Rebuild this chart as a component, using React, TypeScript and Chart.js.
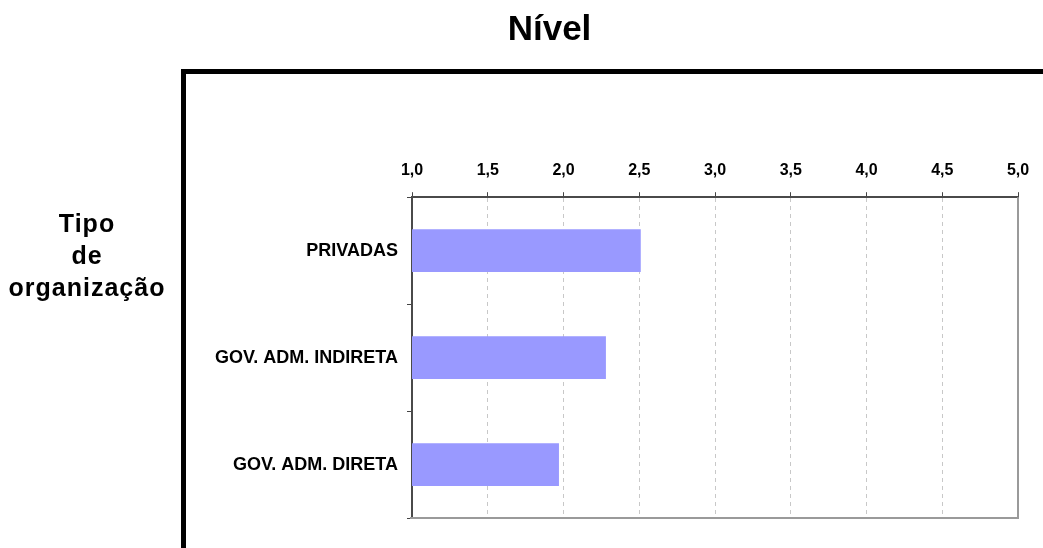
import React, { useEffect, useRef } from "react";
import { Chart, registerables } from "chart.js";

Chart.register(...registerables);

// Survey result: average level per organization type
const categories: string[] = ["PRIVADAS", "GOV. ADM. INDIRETA", "GOV. ADM. DIRETA"];
const levels: number[] = [2.51, 2.28, 1.97];

// Level scale
const scaleMin = 1;
const scaleMax = 5;
const scaleStep = 0.5;

const chartTitle = "Nível";
const axisTitleLines: string[] = ["Tipo", "de", "organização"];

const narrowFont = "'Liberation Sans Narrow', 'Liberation Sans', Arial, sans-serif";
const sansFont = "'Liberation Sans', Arial, sans-serif";

// Thick black frame along the top and left edges of the panel
const framePlugin = {
  id: "panelFrame",
  beforeDraw(chart: Chart) {
    const ctx = chart.ctx;
    ctx.save();
    ctx.fillStyle = "#000";
    ctx.fillRect(181, 69, chart.width - 181, 5);
    ctx.fillRect(181, 69, 5, chart.height - 69);
    ctx.restore();
  },
};

// Solid light-grey border on the right and bottom of the plot area
const plotBorderPlugin = {
  id: "plotBorder",
  afterDatasetsDraw(chart: Chart) {
    const { ctx, chartArea } = chart;
    ctx.save();
    ctx.strokeStyle = "#9a9a9a";
    ctx.lineWidth = 2;
    ctx.beginPath();
    ctx.moveTo(chartArea.right, chartArea.top);
    ctx.lineTo(chartArea.right, chartArea.bottom);
    ctx.lineTo(chartArea.left - 2, chartArea.bottom);
    ctx.stroke();
    ctx.restore();
  },
};

// Horizontal, stacked category-axis title at the left
const axisTitlePlugin = {
  id: "categoryAxisTitle",
  afterDraw(chart: Chart) {
    const ctx = chart.ctx;
    ctx.save();
    ctx.fillStyle = "#000";
    ctx.font = `bold 25px ${sansFont}`;
    ctx.textAlign = "center";
    ctx.textBaseline = "alphabetic";
    (ctx as any).letterSpacing = "1px";
    const baselines = [232, 264, 296];
    axisTitleLines.forEach((line, i) => {
      ctx.fillText(line, 87, baselines[i]);
    });
    ctx.restore();
  },
};

export default function App() {
  const canvasRef = useRef<HTMLCanvasElement | null>(null);

  useEffect(() => {
    document.body.style.margin = "0";
    const canvas = canvasRef.current;
    if (!canvas) return;

    const chart = new Chart(canvas, {
      type: "bar",
      data: {
        labels: categories,
        datasets: [
          {
            data: levels,
            backgroundColor: "#9999ff",
            borderWidth: 0,
            categoryPercentage: 1,
            barPercentage: 0.4,
          },
        ],
      },
      options: {
        indexAxis: "y",
        responsive: false,
        animation: false,
        layout: { padding: { top: 0, left: 81, right: 25, bottom: 30 } },
        plugins: {
          legend: { display: false },
          tooltip: { enabled: false },
          title: {
            display: true,
            text: chartTitle,
            color: "#000",
            font: { family: sansFont, size: 35, weight: "bold" },
            padding: { top: 9, bottom: 98 },
          },
        },
        scales: {
          x: {
            position: "top",
            min: scaleMin,
            max: scaleMax,
            ticks: {
              stepSize: scaleStep,
              color: "#000",
              padding: 12,
              font: { family: narrowFont, size: 16, weight: "bold" },
              callback: (v: any) => Number(v).toFixed(1).replace(".", ","),
            },
            grid: {
              color: "#c8c8c8",
              lineWidth: 1,
              tickColor: "#444",
              tickLength: 5,
              tickWidth: 1,
              tickBorderDash: [],
            } as any,
            border: { color: "#4a4a4a", width: 2, dash: [4, 4] },
          },
          y: {
            afterFit: (scale: any) => {
              scale.width = 331;
            },
            ticks: {
              color: "#000",
              padding: 9,
              font: { family: narrowFont, size: 18, weight: "bold" },
            },
            grid: {
              offset: true,
              drawOnChartArea: false,
              tickLength: 5,
              tickColor: "#444",
            },
            border: { color: "#4a4a4a", width: 2 },
          },
        },
      },
      plugins: [framePlugin, plotBorderPlugin, axisTitlePlugin],
    });

    return () => chart.destroy();
  }, []);

  return (
    <div style={{ width: 1043, height: 548, background: "#fff" }}>
      <canvas ref={canvasRef} width={1043} height={548} style={{ display: "block" }} />
    </div>
  );
}
